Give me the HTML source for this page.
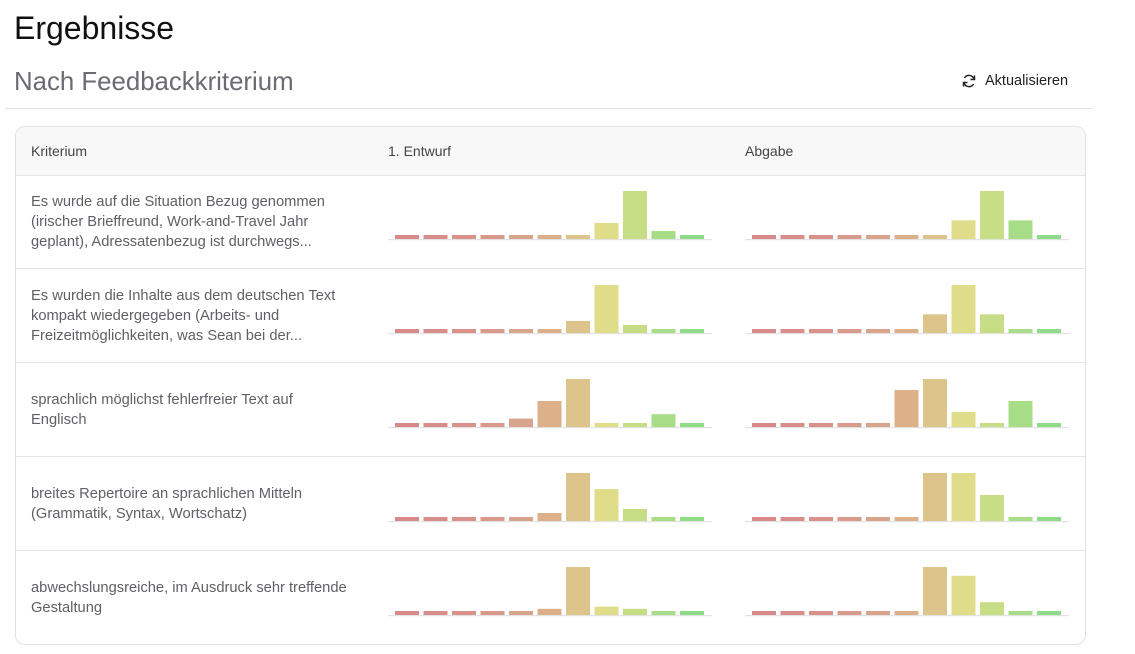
<!DOCTYPE html>
<html><head><meta charset="utf-8">
<style>
body{margin:0;width:1135px;height:654px;background:#fff;font-family:"Liberation Sans",sans-serif;position:relative;overflow:hidden}
.abs{position:absolute}
h1{position:absolute;left:14px;top:10px;margin:0;font-size:32px;font-weight:normal;color:#111}
h2{position:absolute;left:14px;top:68px;margin:0;font-size:25.8px;font-weight:normal;color:#6b6b72}
.card{position:absolute;left:15px;top:126px;width:1069px;height:517px;border:1px solid #e2e2e2;border-radius:10px;overflow:hidden}
.hdr{position:absolute;left:0;top:0;width:100%;height:48px;background:#f8f8f8;border-bottom:1px solid #e4e4e4}
.hc{position:absolute;top:16px;font-size:14px;color:#444}
.row{position:absolute;left:0;width:100%;height:93px;border-bottom:1px solid #e6e6e6}
.txt{position:absolute;left:15px;width:318px;font-size:14.7px;line-height:20px;color:#5f5f66}
</style></head><body>
<h1>Ergebnisse</h1>
<h2>Nach Feedbackkriterium</h2>
<div class="abs" style="left:961px;top:73px;font-size:14.5px;color:#222;display:flex;align-items:center;gap:8px">
<svg width="16" height="16" viewBox="0 0 16 16"><path d="M13 6.5A5.2 5.2 0 0 0 3.4 5M3 9.5A5.2 5.2 0 0 0 12.6 11" fill="none" stroke="#222" stroke-width="1.5"/><path d="M13.5 2.5v4h-4M2.5 13.5v-4h4" fill="none" stroke="#222" stroke-width="1.5"/></svg>Aktualisieren</div>
<div class="abs" style="left:5px;top:108px;width:1088px;height:1px;background:#e2e2e2"></div>
<div class="card">
<div class="hdr">
<div class="hc" style="left:15px">Kriterium</div>
<div class="hc" style="left:372px">1. Entwurf</div>
<div class="hc" style="left:729px">Abgabe</div>
</div>
<div class="row" style="top:48px"><div class="txt" style="top:17px">Es wurde auf die Situation Bezug genommen (irischer Brieffreund, Work-and-Travel Jahr geplant), Adressatenbezug ist durchwegs...</div></div>
<div class="row" style="top:142px"><div class="txt" style="top:17px">Es wurden die Inhalte aus dem deutschen Text kompakt wiedergegeben (Arbeits- und Freizeitmöglichkeiten, was Sean bei der...</div></div>
<div class="row" style="top:236px"><div class="txt" style="top:27px">sprachlich möglichst fehlerfreier Text auf Englisch</div></div>
<div class="row" style="top:330px"><div class="txt" style="top:27px">breites Repertoire an sprachlichen Mitteln (Grammatik, Syntax, Wortschatz)</div></div>
<div class="row" style="top:424px;border-bottom:none"><div class="txt" style="top:27px">abwechslungsreiche, im Ausdruck sehr treffende Gestaltung</div></div>
</div>
<svg id="charts" class="abs" style="left:0;top:0" width="1135" height="654"></svg>
<script>
const entwurf = [
 [0,0,0,0,0,0,0,3,11,1,0],
 [0,0,0,0,0,0,2,11,1,0,0],
 [0,0,0,0,1,5,10,0,0,2,0],
 [0,0,0,0,0,1,11,7,2,0,0],
 [0,0,0,0,0,1,20,2,1,0,0]
];
const abgabe = [
 [0,0,0,0,0,0,0,3,9,3,0],
 [0,0,0,0,0,0,3,9,3,0,0],
 [0,0,0,0,0,3,4,1,0,2,0],
 [0,0,0,0,0,0,4,4,2,0,0],
 [0,0,0,0,0,0,5,4,1,0,0]
];
const colors = ["#d88a8a","#d98d8a","#d9918b","#d99a8c","#d9a48c","#dcb088","#dcc48a","#dfdc8a","#c6dd86","#a8dd88","#8edc88"];
const svg = document.getElementById('charts');
const NS = 'http://www.w3.org/2000/svg';
const rowBase = r => 239 + r*94;
const xPos = (x0,i) => x0 + 7 + i*28.5;
const yH = (v,max) => 4 + (max>0 ? v/max*44 : 0);
function draw(data, x0, r){
  const max = Math.max(...data);
  const base = rowBase(r);
  const ax = document.createElementNS(NS,'rect');
  ax.setAttribute('x',x0); ax.setAttribute('y',base); ax.setAttribute('width',324); ax.setAttribute('height',1.2); ax.setAttribute('fill','#e2e2e2');
  
  
  svg.appendChild(ax);
  data.forEach((v,i)=>{
    const h = yH(v,max);
    const b = document.createElementNS(NS,'rect');
    b.setAttribute('x',xPos(x0,i)); b.setAttribute('y',base-h); b.setAttribute('width',24); b.setAttribute('height',h); b.setAttribute('fill',colors[i]);
    
    
    svg.appendChild(b);
  });
}
entwurf.forEach((d,r)=>draw(d,388,r));
abgabe.forEach((d,r)=>draw(d,745,r));
</script>
</body></html>
